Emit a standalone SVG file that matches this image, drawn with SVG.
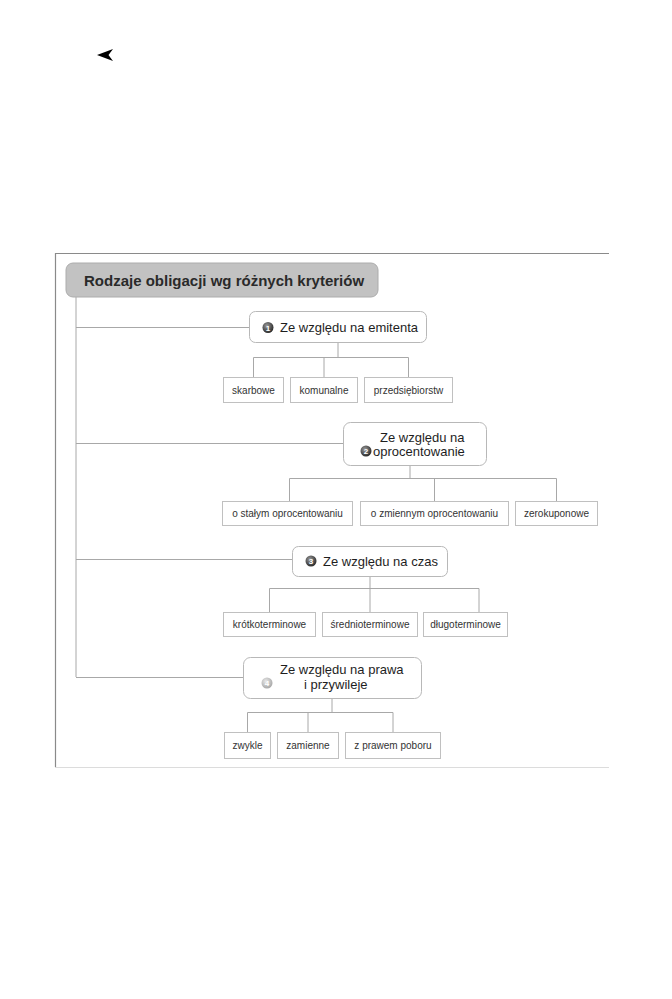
<svg xmlns="http://www.w3.org/2000/svg" width="672" height="999" viewBox="0 0 672 999">
<defs>
<radialGradient id="badge" cx="40%" cy="35%" r="65%"><stop offset="0" stop-color="#9a9a9a"/><stop offset="1" stop-color="#2a2a2a"/></radialGradient>
<radialGradient id="badgeL" cx="40%" cy="35%" r="65%"><stop offset="0" stop-color="#e8e8e8"/><stop offset="1" stop-color="#a8a8a8"/></radialGradient>
</defs>
<style>
.node{fill:#fff;stroke:#b8b8b8;stroke-width:1}
.leaf{fill:#fff;stroke:#c0c0c0;stroke-width:1}
.con{fill:none;stroke:#a8a8a8;stroke-width:1}
.nt{font-family:"Liberation Sans",Arial,sans-serif;font-size:13px;fill:#1e1e1e}
.lt{font-family:"Liberation Sans",Arial,sans-serif;font-size:10px;fill:#333;text-anchor:middle}
.bn{font-family:"Liberation Sans",Arial,sans-serif;font-size:8px;font-weight:bold;fill:#fff;text-anchor:middle}
</style>
<rect width="672" height="999" fill="#fff"/>
<path d="M97 55 L113 49 L108.5 55 L113 61 Z" fill="#000"/>
<g id="frame">
<line x1="55.5" y1="253" x2="55.5" y2="767" stroke="#8a8a8a" stroke-width="1.2"/>
<line x1="55" y1="253.5" x2="609" y2="253.5" stroke="#8a8a8a" stroke-width="1.2"/>
<line x1="55" y1="767.5" x2="609" y2="767.5" stroke="#dcdcdc" stroke-width="1"/>
</g>
<g id="connectors">
<path class="con" d="M76 297 V677"/>
<path class="con" d="M76 327.5 H249"/>
<path class="con" d="M76 443.5 H343"/>
<path class="con" d="M76 559.5 H292"/>
<path class="con" d="M76 677.5 H243"/>
<path class="con" d="M338 343 V357.5 M253.5 377 V357.5 H408.5 V377 M324 357.5 V377"/>
<path class="con" d="M410 466 V478.5 M289.5 501 V478.5 H556.5 V501 M434.5 478.5 V501"/>
<path class="con" d="M370 577 V588.5 M269.5 612 V588.5 H479 V612 M370 588.5 V612"/>
<path class="con" d="M332 699 V712.5 M247.5 732 V712.5 H393 V732 M308 712.5 V732"/>
</g>
<g id="root">
<rect x="66" y="263" width="312" height="34" rx="7" fill="#c2c2c2" stroke="#acacac"/>
<text x="84" y="285.5" font-family="'Liberation Sans',Arial,sans-serif" font-size="15" font-weight="bold" fill="#2a2a2a">Rodzaje obligacji wg różnych kryteriów</text>
</g>
<g id="n1">
<rect class="node" x="249.5" y="311.5" width="177" height="31" rx="6"/>
<circle cx="268" cy="327.5" r="5.5" fill="url(#badge)"/>
<text class="bn" x="268" y="330.5">1</text>
<text class="nt" x="280" y="332">Ze względu na emitenta</text>
</g>
<g id="n1a"><rect class="leaf" x="223.5" y="377.5" width="60" height="25"/><text class="lt" x="253.5" y="394">skarbowe</text></g>
<g id="n1b"><rect class="leaf" x="290.5" y="377.5" width="67" height="25"/><text class="lt" x="324" y="394">komunalne</text></g>
<g id="n1c"><rect class="leaf" x="364.5" y="377.5" width="88" height="25"/><text class="lt" x="408.5" y="394">przedsiębiorstw</text></g>
<g id="n2">
<rect class="node" x="343.5" y="422.5" width="143" height="43" rx="7"/>
<text class="nt" x="380" y="442">Ze względu na</text>
<circle cx="366" cy="451" r="5.5" fill="url(#badge)"/>
<text class="bn" x="366" y="454">2</text>
<text class="nt" x="373" y="456">oprocentowanie</text>
</g>
<g id="n2a"><rect class="leaf" x="222.5" y="501.5" width="130" height="24"/><text class="lt" x="287.5" y="517">o stałym oprocentowaniu</text></g>
<g id="n2b"><rect class="leaf" x="360.5" y="501.5" width="148" height="24"/><text class="lt" x="434.5" y="517">o zmiennym oprocentowaniu</text></g>
<g id="n2c"><rect class="leaf" x="515.5" y="501.5" width="82" height="24"/><text class="lt" x="556.5" y="517">zerokuponowe</text></g>
<g id="n3">
<rect class="node" x="292.5" y="546.5" width="155" height="30" rx="6"/>
<circle cx="311" cy="561" r="5.5" fill="url(#badge)"/>
<text class="bn" x="311" y="564">3</text>
<text class="nt" x="323" y="566" font-size="13.5">Ze względu na czas</text>
</g>
<g id="n3a"><rect class="leaf" x="223.5" y="612.5" width="92" height="24"/><text class="lt" x="269.5" y="628">krótkoterminowe</text></g>
<g id="n3b"><rect class="leaf" x="322.5" y="612.5" width="95" height="24"/><text class="lt" x="370" y="628">średnioterminowe</text></g>
<g id="n3c"><rect class="leaf" x="423.5" y="612.5" width="84" height="24"/><text class="lt" x="465.5" y="628">długoterminowe</text></g>
<g id="n4">
<rect class="node" x="243.5" y="657.5" width="178" height="41" rx="7"/>
<text class="nt" x="280" y="674">Ze względu na prawa</text>
<circle cx="267" cy="683" r="5.5" fill="url(#badgeL)"/>
<text class="bn" x="267" y="686">4</text>
<text class="nt" x="304" y="689">i przywileje</text>
</g>
<g id="n4a"><rect class="leaf" x="224.5" y="732.5" width="46" height="26"/><text class="lt" x="247.5" y="749">zwykle</text></g>
<g id="n4b"><rect class="leaf" x="277.5" y="732.5" width="61" height="26"/><text class="lt" x="308" y="749">zamienne</text></g>
<g id="n4c"><rect class="leaf" x="345.5" y="732.5" width="95" height="26"/><text class="lt" x="393" y="749">z prawem poboru</text></g>
</svg>
